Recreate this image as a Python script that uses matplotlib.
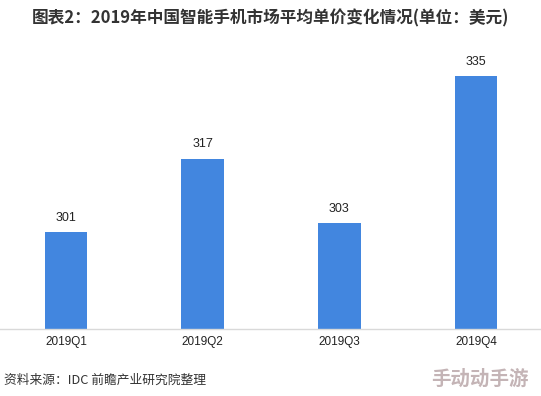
import matplotlib
matplotlib.use("Agg")
import matplotlib.pyplot as plt

categories = ["2019Q1", "2019Q2", "2019Q3", "2019Q4"]
values = [301, 317, 303, 335]
title = "图表2：2019年中国智能手机市场平均单价变化情况(单位：美元)"
source = "资料来源：IDC 前瞻产业研究院整理"

plt.rcParams['font.family'] = ['Noto Sans CJK SC', 'DejaVu Sans']

fig = plt.figure(figsize=(5.41, 3.96), dpi=100)
ax = fig.add_axes([0.0, 1 - 329/396, 1.0, (329 - 45)/396])

x = list(range(len(categories)))
bars = ax.bar(x, values, width=0.31, color="#4286DF", zorder=2)
ax.set_ylim(280, 280 + (329 - 45) / 4.6)
ax.set_xlim(-66/136.67, 3 + (541 - 476)/136.67)

for xi, v in zip(x, values):
    ax.annotate(str(v), (xi, v), xytext=(0, 6), textcoords="offset points",
                ha="center", va="bottom", fontsize=9, color="#222222",
                family=["Liberation Sans", "DejaVu Sans"])

ax.set_xticks(x)
ax.set_xticklabels(categories, fontsize=8.5, color="#222222",
                   family=["Liberation Sans", "DejaVu Sans"])
ax.tick_params(axis="x", length=0, pad=5)
ax.set_yticks([])
for s in ["top", "right", "left"]:
    ax.spines[s].set_visible(False)
ax.spines["bottom"].set_color("#d9d9d9")
ax.spines["bottom"].set_linewidth(1)

fig.text(0.5, 1 - 18/396, title, ha="center", va="center", fontsize=12,
         fontweight="bold", color="#333333")
fig.text(4/541, 1 - 380/396, source, ha="left", va="center", fontsize=9.2,
         color="#333333")
fig.text(480/541, 1 - 379/396, "手动动手游", ha="center", va="center", fontsize=14,
         fontweight="bold", color="#c4b4b6")

fig.savefig("out.png", dpi=100)
